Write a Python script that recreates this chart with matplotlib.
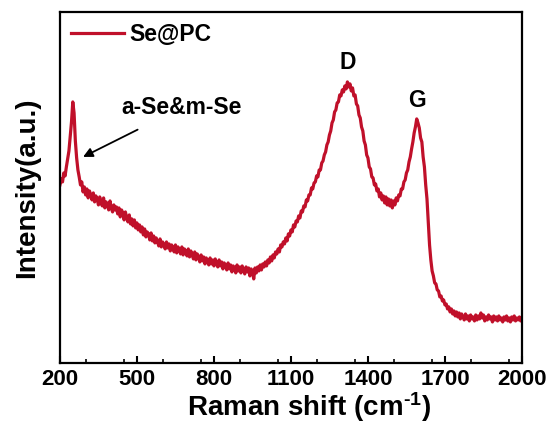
import matplotlib
matplotlib.use("Agg")
import matplotlib.pyplot as plt
from matplotlib.ticker import MultipleLocator

plt.rcParams['font.family'] = ['Liberation Sans', 'DejaVu Sans']
plt.rcParams['font.weight'] = 'bold'
plt.rcParams['mathtext.fontset'] = 'custom'
plt.rcParams['mathtext.rm'] = 'Liberation Sans:bold'
plt.rcParams['mathtext.bf'] = 'Liberation Sans:bold'
plt.rcParams['mathtext.it'] = 'Liberation Sans:bold'
plt.rcParams['mathtext.default'] = 'bf'

raman_shift = list(range(200, 2001, 5))
intensity = [
    178, 184, 181, 190, 187, 196, 204, 212, 226, 241, 261, 250, 222, 205, 193, 186, 178, 181, 171, 176, 168,
    174, 165, 172, 168, 163, 170, 161, 167, 164, 158, 166, 160, 157, 165, 155, 161, 158, 153, 162, 155,
    151, 158, 153, 156, 149, 155, 146, 153, 150, 143, 151, 145, 141, 148, 139, 144, 137, 143, 135, 140,
    133, 138, 131, 136, 128, 134, 126, 131, 129, 123, 130, 122, 127, 120, 125, 121, 117, 124, 116, 121,
    118, 114, 121, 115, 119, 112, 118, 115, 111, 118, 110, 116, 113, 109, 116, 108, 114, 111, 107, 114,
    106, 112, 108, 104, 111, 103, 109, 106, 101, 108, 102, 106, 99, 105, 101, 98, 105, 99, 103, 97,
    104, 99, 96, 103, 97, 101, 94, 100, 97, 93, 100, 94, 98, 91, 97, 95, 90, 98, 92, 96,
    90, 97, 93, 89, 96, 91, 95, 87, 94, 91, 84, 95, 90, 96, 92, 98, 93, 99, 96, 101,
    97, 103, 100, 106, 102, 108, 105, 111, 109, 114, 111, 118, 116, 121, 119, 125, 122, 129, 127, 133,
    131, 138, 136, 142, 141, 147, 145, 152, 151, 157, 156, 163, 162, 168, 168, 175, 174, 180, 181, 187,
    186, 193, 193, 200, 202, 208, 211, 218, 221, 228, 232, 240, 243, 251, 253, 260, 261, 268, 267, 273,
    271, 277, 274, 281, 276, 279, 272, 275, 267, 268, 259, 257, 248, 245, 236, 232, 222, 218, 208, 205,
    196, 194, 186, 185, 178, 179, 172, 174, 166, 170, 163, 167, 160, 166, 158, 164, 157, 163, 155, 162,
    158, 165, 162, 168, 167, 174, 174, 181, 183, 190, 193, 201, 206, 214, 221, 230, 236, 244, 240, 235,
    225, 221, 206, 196, 178, 164, 140, 118, 103, 92, 87, 80, 79, 73, 72, 66, 67, 62, 63, 58,
    59, 54, 56, 51, 54, 49, 52, 47, 51, 46, 50, 44, 49, 46, 43, 49, 44, 47, 42, 48,
    44, 46, 42, 48, 43, 47, 44, 50, 45, 48, 42, 46, 43, 48, 44, 46, 41, 47, 43, 46,
    42, 47, 43, 45, 41, 46, 43, 47, 42, 45, 41, 46, 43, 47, 42, 45, 43, 46, 42, 45,
]
series_label = "Se@PC"
x_ticks = [200, 500, 800, 1100, 1400, 1700, 2000]

fig = plt.figure(figsize=(5.5, 4.25), dpi=100)
ax = fig.add_axes([0.109, 0.146, 0.840, 0.826])
ax.plot(raman_shift, intensity, color='#C0102A', lw=2.3, label=series_label)

ax.set_xlim(200, 2000)
ax.set_ylim(0, 351)
ax.set_xticks(x_ticks)
ax.xaxis.set_minor_locator(MultipleLocator(150))
ax.set_yticks([])
ax.tick_params(axis='x', which='major', direction='in', length=5, width=1.5,
               labelsize=16, pad=4)
ax.tick_params(axis='x', which='minor', direction='in', length=3, width=1.2)
for lab in ax.get_xticklabels():
    lab.set_fontweight('bold')
for s in ax.spines.values():
    s.set_linewidth(1.6)

ax.set_xlabel('Raman shift (cm$^{\u20101}$)', fontsize=20, fontweight='bold')
ax.xaxis.set_label_coords(0.54, -0.150)
ax.xaxis.label.set_va('baseline')
ax.set_ylabel('Intensity(a.u.)', fontsize=20, fontweight='bold', labelpad=14)

ax.annotate('a-Se&m-Se', xy=(290, 206), xytext=(672, 255), fontsize=16.5,
            fontweight='bold', ha='center', va='center',
            arrowprops=dict(arrowstyle='-|>', color='black', lw=1.3,
                            shrinkA=12, shrinkB=0, mutation_scale=14))
ax.text(1322, 300, 'D', fontsize=16.5, fontweight='bold', ha='center', va='center')
ax.text(1591, 262, 'G', fontsize=16.5, fontweight='bold', ha='center', va='center')

leg = ax.legend(loc='upper left', frameon=False, fontsize=16.5, handlelength=2.3,
                borderaxespad=0.2, handletextpad=0.25, borderpad=0.3)
for t in leg.get_texts():
    t.set_fontweight('bold')

fig.savefig('out.png', dpi=100)
